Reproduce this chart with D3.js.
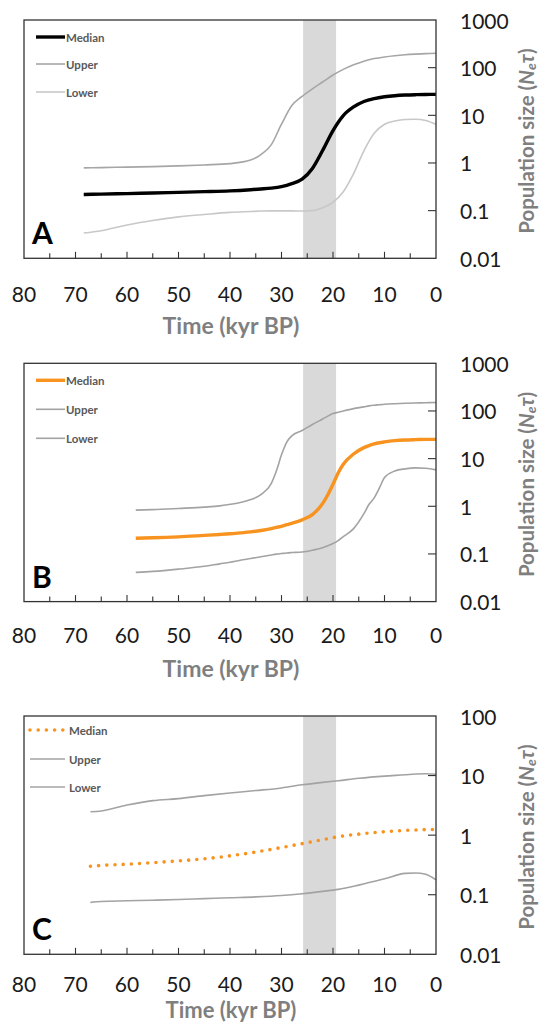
<!DOCTYPE html>
<meta charset="utf-8">
<style>
    body { margin: 0; background: #fff; }
    svg { font-family: Lato, "Open Sans", sans-serif; }
</style>
<body>
<script src="https://d3js.org/d3.v7.min.js"></script>
<script>
    // ---- data (time in kyr BP, population size Ne*tau) ----
    const legendNames = ['Median', 'Upper', 'Lower'];
    const xTicks = [80, 70, 60, 50, 40, 30, 20, 10, 0];
    const lgmBand = [25.8, 19.4];

    const timeA = [68.4, 65, 60, 55, 50, 45, 40, 36, 34, 32, 30, 28, 26, 24, 22, 20, 18, 16, 14, 12, 10, 8, 6, 4, 2, 0];
    const medianA = [0.218, 0.222, 0.228, 0.235, 0.242, 0.25, 0.26, 0.275, 0.285, 0.297, 0.32, 0.37, 0.46, 0.77, 1.85, 4.8, 9.9, 15, 19.5, 22.5, 24.5, 25.8, 26.6, 27.1, 27.4, 27.5];
    const upperA = [0.79, 0.8, 0.82, 0.84, 0.87, 0.91, 0.97, 1.15, 1.5, 2.4, 6.5, 16, 25, 36, 50, 70, 92, 115, 137, 155, 168, 178, 186, 192, 197, 200];
    const lowerA = [0.034, 0.038, 0.05, 0.062, 0.074, 0.083, 0.092, 0.096, 0.098, 0.099, 0.099, 0.099, 0.098, 0.1, 0.115, 0.15, 0.25, 0.6, 1.8, 4.2, 6.5, 7.6, 8.2, 8.3, 7.8, 6.5];

    const timeB = [58.3, 55, 50, 45, 42, 40, 38, 36, 34, 32, 31, 30, 29, 28, 26, 24, 22, 21, 20, 19, 18, 16, 14, 13, 12, 11, 10, 8, 6, 4, 2, 0];
    const medianB = [0.214, 0.218, 0.228, 0.245, 0.256, 0.265, 0.277, 0.29, 0.31, 0.34, 0.36, 0.38, 0.41, 0.44, 0.52, 0.67, 1.15, 1.75, 2.9, 5.0, 7.6, 12.5, 17, 18.8, 20.3, 21.5, 22.4, 23.8, 24.6, 25, 25.3, 25.4];
    const upperB = [0.83, 0.85, 0.9, 0.96, 1.02, 1.1, 1.2, 1.38, 1.75, 3.0, 5.5, 12, 22, 30, 39, 52, 68, 78, 88, 94, 100, 112, 122, 128, 132, 135, 138, 142, 145, 147, 149, 150];
    const lowerB = [0.041, 0.043, 0.048, 0.055, 0.062, 0.067, 0.074, 0.08, 0.087, 0.095, 0.099, 0.102, 0.105, 0.107, 0.11, 0.12, 0.135, 0.148, 0.165, 0.19, 0.23, 0.34, 0.7, 1.1, 1.5, 2.4, 4.0, 5.5, 6.1, 6.4, 6.3, 5.8];

    const timeC = [67.1, 65, 60, 55, 50, 45, 40, 35, 30, 26, 22, 19, 15, 10, 6, 4, 2, 0];
    const medianC = [0.30, 0.31, 0.325, 0.345, 0.37, 0.4, 0.45, 0.52, 0.62, 0.72, 0.84, 0.94, 1.04, 1.14, 1.2, 1.22, 1.24, 1.25];
    const upperC = [2.47, 2.55, 3.2, 3.8, 4.1, 4.6, 5.1, 5.6, 6.2, 7.0, 7.7, 8.2, 9.0, 9.8, 10.3, 10.6, 10.7, 10.5];
    const lowerC = [0.0745, 0.077, 0.079, 0.081, 0.083, 0.086, 0.089, 0.092, 0.097, 0.104, 0.114, 0.123, 0.145, 0.185, 0.228, 0.232, 0.22, 0.177];

    const yTicksABC = [[0.01, 0.1, 1, 10, 100, 1000], [0.01, 0.1, 1, 10, 100, 1000], [0.01, 0.1, 1, 10, 100]];

    // ---- layout ----
    const W = 541, H = 1023;
    const left = 24, right = 436, plotH = 238.3;
    const orange = '#f7931e';

    const panels = [
        {letter: 'A', top: 20, time: timeA, med: medianA, up: upperA, lo: lowerA, yTicks: yTicksABC[0],
         medColor: '#000', medDash: null, upColor: '#a6a6a6', loColor: '#c8c8c8',
         legX: 36, legY: [17, 44, 72], tickLabDy: 35, titleDy: 67, titleSize: 23},
        {letter: 'B', top: 363.3, time: timeB, med: medianB, up: upperB, lo: lowerB, yTicks: yTicksABC[1],
         medColor: orange, medDash: null, upColor: '#a3a3a3', loColor: '#a3a3a3',
         legX: 36, legY: [17, 46, 75], tickLabDy: 33, titleDy: 66, titleSize: 23},
        {letter: 'C', top: 716, time: timeC, med: medianC, up: upperC, lo: lowerC, yTicks: yTicksABC[2],
         medColor: orange, medDash: '0 8.2', upColor: '#a3a3a3', loColor: '#a3a3a3',
         legX: 30, legY: [14, 43, 71], tickLabDy: 28.7, titleDy: 55.2, titleSize: 22}
    ];

    const svg = d3.select('body').append('svg')
        .attr('width', W)
        .attr('height', H);

    const x = d3.scaleLinear().domain([80, 0]).range([left, right]);

    panels.forEach(p => {
        const bottom = p.top + plotH;
        const y = d3.scaleLog()
            .domain([d3.min(p.yTicks), d3.max(p.yTicks)])
            .range([bottom, p.top]);

        const g = svg.append('g').attr('class', 'panel');

        // shaded LGM band
        g.append('rect')
            .attr('x', x(lgmBand[0]))
            .attr('y', p.top)
            .attr('width', x(lgmBand[1]) - x(lgmBand[0]))
            .attr('height', plotH)
            .attr('fill', '#d9d9d9');

        const line = d3.line()
            .x(d => x(d[0]))
            .y(d => y(d[1]))
            .curve(d3.curveMonotoneX);

        const series = [
            {vals: p.lo, color: p.loColor, w: 1.6, dash: null},
            {vals: p.up, color: p.upColor, w: 1.6, dash: null},
            {vals: p.med, color: p.medColor, w: p.medDash ? 3.6 : 3.4, dash: p.medDash}
        ];
        series.forEach(s => {
            g.append('path')
                .datum(p.time.map((t, i) => [t, s.vals[i]]))
                .attr('d', line)
                .attr('fill', 'none')
                .attr('stroke', s.color)
                .attr('stroke-width', s.w)
                .attr('stroke-linecap', s.dash ? 'round' : 'butt')
                .attr('stroke-dasharray', s.dash);
        });

        // frame
        g.append('rect')
            .attr('x', left).attr('y', p.top)
            .attr('width', right - left).attr('height', plotH)
            .attr('fill', 'none')
            .attr('stroke', '#333')
            .attr('stroke-width', 1.3);

        // x ticks (inside, every 5 kyr)
        g.selectAll('.xt')
            .data(d3.range(75, 0, -5))
            .enter().append('line')
            .attr('x1', d => x(d)).attr('x2', d => x(d))
            .attr('y1', bottom).attr('y2', d => bottom - (d % 10 === 0 ? 6.5 : 5))
            .attr('stroke', '#333').attr('stroke-width', 1.1);

        g.selectAll('.xl')
            .data(xTicks)
            .enter().append('text')
            .attr('x', d => x(d))
            .attr('y', bottom + p.tickLabDy)
            .attr('text-anchor', 'middle')
            .attr('dominant-baseline', 'central')
            .attr('font-size', 21)
            .attr('fill', '#1a1a1a')
            .text(d => d);

        g.append('text')
            .attr('x', 231)
            .attr('y', bottom + p.titleDy)
            .attr('text-anchor', 'middle')
            .attr('dominant-baseline', 'central')
            .attr('font-size', p.titleSize)
            .attr('font-weight', 'bold')
            .attr('fill', '#7f7f7f')
            .text('Time (kyr BP)');

        // y ticks (inside at right edge)
        const inner = p.yTicks.filter(v => v !== d3.min(p.yTicks) && v !== d3.max(p.yTicks));
        g.selectAll('.yt')
            .data(inner)
            .enter().append('line')
            .attr('x1', right - 8).attr('x2', right)
            .attr('y1', d => y(d)).attr('y2', d => y(d))
            .attr('stroke', '#333').attr('stroke-width', 1.1);

        g.selectAll('.yl')
            .data(p.yTicks)
            .enter().append('text')
            .attr('x', 460)
            .attr('y', d => y(d))
            .attr('dominant-baseline', 'central')
            .attr('font-size', 21)
            .attr('fill', '#1a1a1a')
            .text(d => d);

        // y title
        const yt = g.append('text')
            .attr('transform', `translate(526,${p.top + plotH / 2 + 2}) rotate(-90)`)
            .attr('text-anchor', 'middle')
            .attr('dominant-baseline', 'central')
            .attr('font-size', 20.5)
            .attr('font-weight', 'bold')
            .attr('fill', '#7f7f7f');
        yt.append('tspan').text('Population size (');
        yt.append('tspan').attr('font-style', 'italic').text('N');
        yt.append('tspan').attr('font-style', 'italic').attr('font-size', 14).attr('dy', 4).text('e');
        yt.append('tspan').attr('font-style', 'italic').attr('dy', -4).text('τ');
        yt.append('tspan').text(')');

        // panel letter
        g.append('text')
            .attr('x', 32)
            .attr('y', bottom - 14)
            .attr('font-size', 30)
            .attr('font-weight', 'bold')
            .attr('fill', '#000')
            .text(p.letter);

        // legend
        const legStyles = [
            {color: p.medColor, w: p.medDash ? 3.6 : 3.4, dash: p.medDash},
            {color: p.upColor, w: 1.6, dash: null},
            {color: p.loColor, w: 1.6, dash: null}
        ];
        legendNames.forEach((name, i) => {
            const ly = p.top + p.legY[i];
            const st = legStyles[i];
            g.append('line')
                .attr('x1', p.legX).attr('x2', 65)
                .attr('y1', ly).attr('y2', ly)
                .attr('stroke', st.color)
                .attr('stroke-width', st.w)
                .attr('stroke-linecap', st.dash ? 'round' : 'butt')
                .attr('stroke-dasharray', st.dash);
            g.append('text')
                .attr('x', p.medDash ? 69 : 66)
                .attr('y', ly)
                .attr('dominant-baseline', 'central')
                .attr('font-size', 11.5)
                .attr('font-weight', 'bold')
                .attr('fill', '#595959')
                .text(name);
        });
    });
</script>
</body>
</html>
